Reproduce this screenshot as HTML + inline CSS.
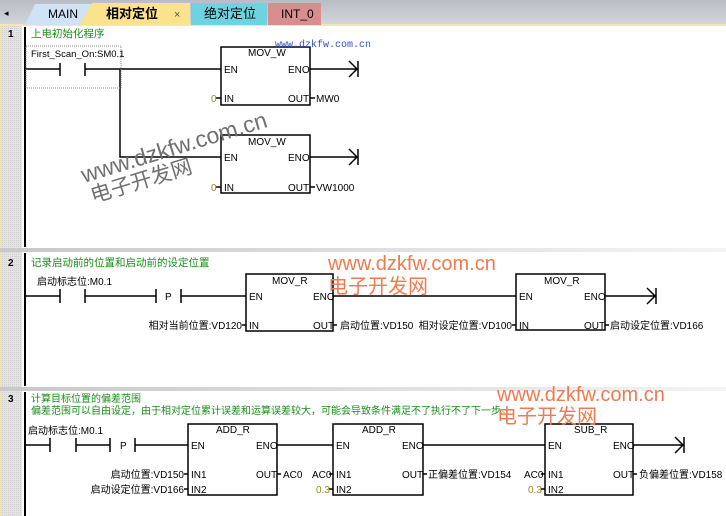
<!DOCTYPE html>
<html><head><meta charset="utf-8"><style>
html,body{margin:0;padding:0;background:#fff;}
svg{display:block;}
text{font-family:"Liberation Sans","Noto Sans CJK SC",sans-serif;font-size:10px;fill:#000;}
.g{fill:#1a8c1a;font-size:10.5px;}
.o{fill:#f07a50;font-size:20px;}
.y{fill:#9a8a20;}
</style></head><body>
<svg width="726" height="516" viewBox="0 0 726 516" xmlns="http://www.w3.org/2000/svg">
<defs>
<linearGradient id="bar" x1="0" y1="0" x2="0" y2="1"><stop offset="0" stop-color="#b8bcc4"/><stop offset="1" stop-color="#d4d6dc"/></linearGradient>
<linearGradient id="sep" x1="0" y1="0" x2="1" y2="0"><stop offset="0" stop-color="#c8c8c8"/><stop offset="1" stop-color="#f4f4f4"/></linearGradient>
<pattern id="hatch" width="2" height="2" patternUnits="userSpaceOnUse"><rect width="2" height="2" fill="#e4e4e4"/><rect width="1" height="1" fill="#cfcfcf"/></pattern>
</defs>
<rect x="0" y="0" width="726" height="25" fill="url(#bar)"/>
<rect x="0" y="24" width="726" height="2" fill="#f3e6b0"/>
<text x="4" y="16" fill="#777" style="font-size:9px">◂</text>
<polygon points="25,25 35,4 92,4 92,25" fill="#cfe3f5"/>
<text x="48" y="18" style="font-size:12px">MAIN</text>
<polygon points="80,25 92,3 190,3 190,25" fill="#fbe28c"/>
<text x="106" y="18" style="font-size:13px;font-weight:bold">相对定位</text>
<text x="174" y="18" style="font-size:11px;fill:#555">×</text>
<rect x="191" y="3" width="76" height="22" fill="#6fd2e0"/>
<text x="204" y="18" style="font-size:13px">绝对定位</text>
<rect x="268" y="3" width="53" height="22" fill="#d98e8e"/>
<text x="281" y="18" style="font-size:12px">INT_0</text>
<rect x="0" y="26" width="22" height="490" fill="url(#hatch)"/>
<rect x="0" y="26" width="2" height="490" fill="#f0e2b0"/>
<rect x="0" y="248" width="726" height="4" fill="url(#sep)"/>
<rect x="0" y="387" width="726" height="4" fill="url(#sep)"/>
<rect x="24" y="27" width="2" height="220" fill="#000"/>
<rect x="24" y="253" width="2" height="133" fill="#000"/>
<rect x="24" y="392" width="2" height="124" fill="#000"/>

<g stroke="#000" stroke-width="1.5" fill="none">
<path d="M25 69H60M60 63V76M85 63V76M85 69H221M120 69V157H221M310 69H357M349 61L357 69L349 77M358 61V77M310 157H357M349 149L357 157L349 165M358 149V165"/>
<rect x="221" y="47" width="89" height="58"/>
<rect x="221" y="135" width="89" height="58"/>
<path d="M216 98H221M310 98H315M216 187H221M310 187H315"/>
<path d="M25 296H60M60 289V303M85 289V303M85 296H156M156 289V303M181 289V303M181 296H246M333 296H516M605 296H655M647 288L655 296L647 304M656 288V304M242 325H246M333 325H337M512 325H516M605 325H609"/>
<rect x="246" y="274" width="87" height="57"/>
<rect x="516" y="274" width="89" height="56"/>
<path d="M25 445H50M50 438V452M76 438V452M76 445H110M110 438V452M135 438V452M135 445H188M277 445H333M423 445H545M633 445H683M675 437L683 445L675 453M684 437V453"/>
<rect x="188" y="424" width="89" height="71"/>
<rect x="333" y="424" width="90" height="71"/>
<rect x="545" y="424" width="88" height="71"/>
<path d="M184 474H188M184 489H188M277 474H281M329 474H333M329 489H333M423 474H427M541 474H545M541 489H545M633 474H637"/>
</g>
<rect x="26" y="46" width="95" height="42" fill="none" stroke="#888" stroke-dasharray="1,1"/>

<text x="8" y="37" style="font-weight:bold">1</text>
<text x="31" y="37" class="g">上电初始化程序</text>
<text x="31" y="57" style="font-size:9.5px">First_Scan_On:SM0.1</text>
<text x="275" y="47" style="font-family:'Liberation Mono',monospace;font-size:10px;fill:#3050d0">www.dzkfw.com.cn</text>
<text x="248" y="56">MOV_W</text>
<text x="224" y="73">EN</text><text x="288" y="73">ENO</text>
<text x="211" y="102" class="y">0</text><text x="224" y="102">IN</text><text x="288" y="102">OUT</text><text x="316" y="102">MW0</text>
<text x="248" y="145">MOV_W</text>
<text x="224" y="161">EN</text><text x="288" y="161">ENO</text>
<text x="211" y="191" class="y">0</text><text x="224" y="191">IN</text><text x="288" y="191">OUT</text><text x="316" y="191">VW1000</text>
<text x="0" y="0" transform="translate(84,183) rotate(-17)" style="font-size:23px;fill:#707070">www.dzkfw.com.cn</text>
<text x="0" y="0" transform="translate(93,203) rotate(-17)" style="font-size:21px;fill:#707070">电子开发网</text>

<text x="8" y="266" style="font-weight:bold">2</text>
<text x="31" y="266" class="g">记录启动前的位置和启动前的设定位置</text>
<text x="37" y="285">启动标志位:M0.1</text>
<text x="165" y="300">P</text>
<text x="272" y="284">MOV_R</text>
<text x="249" y="300">EN</text><text x="313" y="300">ENO</text>
<text x="242" y="329" text-anchor="end">相对当前位置:VD120</text>
<text x="249" y="329">IN</text><text x="313" y="329">OUT</text>
<text x="340" y="329">启动位置:VD150</text>
<text x="544" y="284">MOV_R</text>
<text x="519" y="300">EN</text><text x="584" y="300">ENO</text>
<text x="512" y="329" text-anchor="end">相对设定位置:VD100</text>
<text x="519" y="329">IN</text><text x="584" y="329">OUT</text>
<text x="610" y="329">启动设定位置:VD166</text>
<text x="328" y="270" class="o">www.dzkfw.com.cn</text>
<text x="328" y="293" class="o">电子开发网</text>

<text x="8" y="402" style="font-weight:bold">3</text>
<text x="31" y="402" class="g" style="font-size:10px">计算目标位置的偏差范围</text>
<text x="31" y="414" class="g" style="font-size:10px">偏差范围可以自由设定，由于相对定位累计误差和运算误差较大，可能会导致条件满足不了执行不了下一步。</text>
<text x="28" y="434">启动标志位:M0.1</text>
<text x="120" y="449">P</text>
<text x="216" y="433">ADD_R</text>
<text x="191" y="449">EN</text><text x="256" y="449">ENO</text>
<text x="184" y="478" text-anchor="end">启动位置:VD150</text>
<text x="184" y="493" text-anchor="end">启动设定位置:VD166</text>
<text x="191" y="478">IN1</text><text x="191" y="493">IN2</text>
<text x="256" y="478">OUT</text><text x="283" y="478">AC0</text>
<text x="362" y="433">ADD_R</text>
<text x="336" y="449">EN</text><text x="402" y="449">ENO</text>
<text x="312" y="478">AC0</text><text x="316" y="493" class="y">0.3</text>
<text x="336" y="478">IN1</text><text x="336" y="493">IN2</text>
<text x="402" y="478">OUT</text><text x="428" y="478">正偏差位置:VD154</text>
<text x="574" y="433">SUB_R</text>
<text x="548" y="449">EN</text><text x="613" y="449">ENO</text>
<text x="524" y="478">AC0</text><text x="528" y="493" class="y">0.3</text>
<text x="548" y="478">IN1</text><text x="548" y="493">IN2</text>
<text x="613" y="478">OUT</text><text x="639" y="478">负偏差位置:VD158</text>
<text x="497" y="401" class="o">www.dzkfw.com.cn</text>
<text x="497" y="423" class="o">电子开发网</text>
</svg>
</body></html>
